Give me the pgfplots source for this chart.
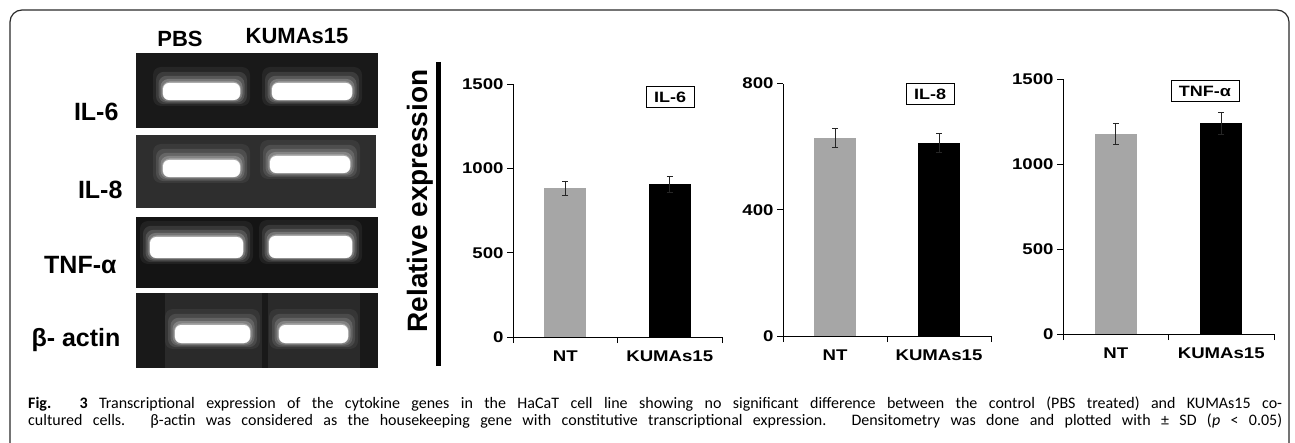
\documentclass[border=0pt]{standalone}
\usepackage{fontspec}
\setmainfont{Liberation Sans}
\newfontfamily\chartfont[FakeStretch=1.2]{Liberation Sans}
\newfontfamily\capfont{Carlito}
\usepackage{pgfplots}
\pgfplotsset{compat=1.18}

\definecolor{ntgray}{HTML}{A6A6A6}
\definecolor{framegray}{HTML}{2A2A2A}

\pgfplotsset{
  cyto/.style={
    scale only axis, anchor=south west, clip=false,
    axis lines=left, axis line style={-, line width=1pt, black},
    xmin=-0.5, xmax=1.5, ymin=0,
    xtick={-0.5,0.5,1.5}, xticklabels={,,},
    extra x ticks={0,1}, extra x tick labels={NT,KUMAs15},
    extra x tick style={tick style={draw=none}},
    tick align=outside, major tick length=6pt,
    tick style={black, line width=0.8pt},
    ticklabel style={font=\chartfont\bfseries\fontsize{15.5}{18}\selectfont},
    x tick label style={yshift=-4pt},
    /pgf/number format/assume math mode=true,
    /pgf/number format/1000 sep={},
  },
  errs/.style={error bars/.cd, y dir=both, y explicit,
    error bar style={line width=0.8pt, black!85},
    error mark options={rotate=90, mark size=3pt, line width=0.8pt, black!85}},
  ntbar/.style={ybar, bar width=42pt, bar shift=0pt, fill=ntgray, draw=none, errs},
  kubar/.style={ybar, bar width=42pt, bar shift=0pt, fill=black, draw=none, errs},
}

% gel band with glow, image coordinates (y down)
\newcommand\band[4]{%
  \foreach \d/\o in {10/0.06, 7/0.10, 4.5/0.14, 2.5/0.2, 1/0.3}{%
    \fill[white, opacity=\o, rounded corners=8pt] (#1-\d,#2-1.6*\d) rectangle (#3+\d,#4+0.6*\d);}
  \fill[white, rounded corners=6pt] (#1,#2) rectangle (#3,#4);}

\begin{document}
\begin{tikzpicture}[x=1pt,y=1pt]
\path[use as bounding box] (0,0) rectangle (1295,442);
\clip (0,0) rectangle (1295,442);
\fill[white] (0,0) rectangle (1295,442);

\begin{scope}[shift={(0,442)}, yscale=-1]
  % frame
  \draw[framegray, line width=1.2pt, rounded corners=12pt] (10,10) rectangle (1289,458);

  % gel panels
  \fill[black!90] (136,53) rectangle (378,128);
  \fill[black!82] (136,135) rectangle (376,208);
  \fill[black!92] (136,217) rectangle (378,288);
  \fill[black!90] (136,293) rectangle (378,368);
  \fill[black!70, opacity=0.35] (165,293) rectangle (262,368);
  \fill[black!70, opacity=0.35] (268,293) rectangle (360,368);

  \band{163}{83}{240}{100}
  \band{272}{83}{352}{100}
  \band{163}{160}{240}{177}
  \band{270}{156}{350}{173}
  \band{150}{237}{243}{258}
  \band{269}{236}{352}{258}
  \band{175}{325}{250}{343}
  \band{279}{325}{348}{343}

  \begin{scope}[font=\bfseries\fontsize{22}{24}\selectfont]
    \node at (180,39) {PBS};
    \node at (297,36) {KUMAs15};
  \end{scope}
  \begin{scope}[font=\bfseries\fontsize{25}{28}\selectfont]
    \node[anchor=east] at (122,112) {IL-6};
    \node[anchor=east] at (126,190) {IL-8};
    \node[anchor=east] at (120,265) {TNF-α};
    \node[anchor=east] at (124,340) {β- actin};
  \end{scope}

  % y label of the charts
  \node[rotate=90, font=\bfseries\fontsize{28}{30}\selectfont] at (420,201) {Relative expression};
  \draw[black, line width=4.5pt] (438.5,62) -- (438.5,366);

  % panel labels
  \begin{scope}[every node/.style={draw, line width=0.8pt, inner xsep=8pt, inner ysep=2pt,
      minimum height=21pt, font=\chartfont\bfseries\fontsize{15}{17}\selectfont}]
    \node at (670,97) {IL-6};
    \node at (930,94) {IL-8};
    \node at (1205,91) {TNF-α};
  \end{scope}

  % caption
  \begin{scope}[every node/.style={anchor=base west, inner sep=0pt, font=\capfont\fontsize{16}{17}\selectfont}]
    \node at (28,408) {\makebox[1254pt][s]{\textbf{Fig. 3} Transcriptional expression of the cytokine genes in the HaCaT cell line showing no significant difference between the control (PBS treated) and KUMAs15 co-}};
    \node at (28,425) {\makebox[1254pt][s]{cultured cells. β-actin was considered as the housekeeping gene with constitutive transcriptional expression. Densitometry was done and plotted with ± SD (\textit{p} < 0.05)}};
  \end{scope}
\end{scope}

% IL-6
\begin{axis}[cyto, at={(513pt,105pt)}, width=209pt, height=253pt,
  ymax=1500, ytick={0,500,1000,1500}]
\addplot[ntbar] coordinates {(0,881) +- (0,44)};
\addplot[kubar] coordinates {(1,905) +- (0,48)};
\end{axis}

% IL-8
\begin{axis}[cyto, at={(783pt,106pt)}, width=208pt, height=252.5pt,
  ymax=800, ytick={0,400,800}]
\addplot[ntbar] coordinates {(0,628) +- (0,31)};
\addplot[kubar] coordinates {(1,613) +- (0,30)};
\end{axis}

% TNF-alpha
\begin{axis}[cyto, at={(1063pt,108pt)}, width=211pt, height=255pt,
  ymax=1500, ytick={0,500,1000,1500}]
\addplot[ntbar] coordinates {(0,1176) +- (0,60)};
\addplot[kubar] coordinates {(1,1239) +- (0,66)};
\end{axis}
\end{tikzpicture}
\end{document}
